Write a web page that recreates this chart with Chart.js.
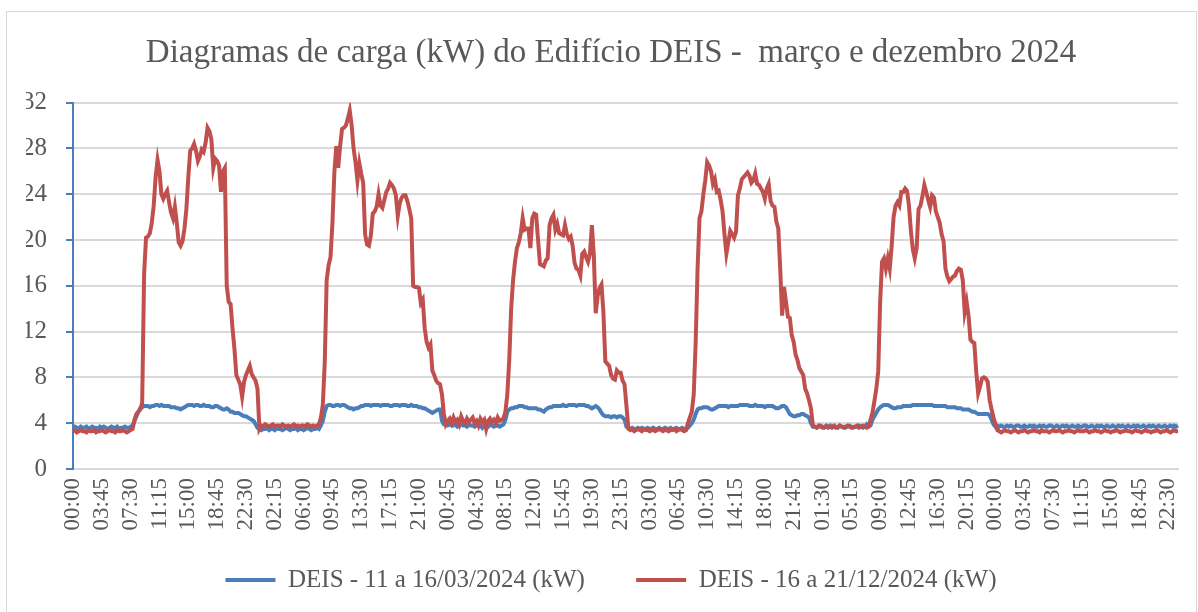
<!DOCTYPE html>
<html>
  <head>
    <title>Diagramas de carga - DEIS</title>
    <script src="https://cdn.jsdelivr.net/npm/chart.js"></script>
    <style>
      body {
        margin: 0;
        background: #fff;
      }
      .chart-box {
        position: absolute;
        left: 6px;
        top: 11px;
        width: 1189px;
        height: 610px;
        border: 1px solid #d9d9d9;
      }
    </style>
  </head>
  <body>
    <div class="chart-box"><canvas id="loadChart"></canvas></div>

    <script>
      // quarter-hour readings (kW), one array per day
      let mar11 = [3.6,3.7,3.6,3.5,3.7,3.6,3.6,3.7,3.5,3.6, 3.7,3.6,3.6,3.5,3.7,3.6,3.7,3.6,3.5,3.6, 3.7,3.6,3.6,3.7,3.5,3.6,3.6,3.7,3.6,3.6, 3.7,
        3.8,4.2,4.6,5.0,5.3,5.4,5.5,
        5.5,5.5,5.4,5.5,5.5,5.6,5.6,5.5,5.6,5.5,5.5,
        5.5,5.5,5.4,5.4,5.4,5.3,5.3,5.2,5.3,5.4,
        5.5,5.6,5.6,5.6,5.5,5.6,5.6,5.5,5.5,5.6,5.5,5.5,5.5,5.4,5.4,5.5,5.5,
        5.4,5.3,5.2,5.2,5.3,5.2,5.0,5.0,4.9,4.9,4.9,4.8,4.7,4.6,4.6,4.5,4.4,4.3,4.2,3.9];
      let mar12 = [3.6,
        3.5,3.4,3.5,3.5,3.6,3.4,3.5,3.5,3.4,3.6, 3.5,3.5,3.4,3.5,3.6,3.5,3.4,3.5,3.5,3.6, 3.4,3.5,3.5,3.4,3.5,3.6,3.5,3.4,3.5,3.5, 3.6,3.5,
        3.8,4.2,5.0,5.5,
        5.6,5.6,5.5,5.5,5.6,5.6,5.5,5.6,5.6,5.5,
        5.4,5.3,5.3,5.2,5.3,5.3,5.4,5.5,5.5,
        5.6,5.6,5.6,5.5,5.6,5.6,5.6,5.6,5.5,5.6, 5.6,5.6,5.6,5.5,5.5,5.6,5.6,5.6,5.5,5.6, 5.6,5.6,5.5,5.5,5.6,
        5.5,5.5,5.5,5.4,5.4,5.3,5.3,5.2,5.1,5.0,4.9,5.0,5.1,5.2,5.2];
      let mar13 = [4.2,3.9,
        3.9,3.8,3.9,3.8,3.8,3.9,3.7,3.8,3.9,3.8, 3.8,3.7,3.9,3.8,3.8,3.7,3.8,3.9,3.8,3.6, 3.8,3.8,3.7,3.9,3.8,3.7,3.8,3.8,3.7,3.8, 3.9,
        4.3,5.0,5.2,5.3,
        5.3,5.4,5.4,5.5,5.5,5.5,5.4,5.4,
        5.3,5.3,5.3,5.3,5.3,5.2,5.2,
        5.1,5.0,5.2,5.3,5.4,
        5.4,5.5,5.5,5.5,5.5,5.5,5.6,5.5,5.5,
        5.6,5.6,5.6,5.6,5.5,5.6,5.6,5.6,5.6,5.5,5.5,
        5.4,5.3,5.4,5.5,5.4,5.2,4.9,4.7,4.6,
        4.6,4.6,4.5,4.6,4.6,4.5,4.6,4.6,4.5,4.3];
      let mar14 = [3.7,
        3.6,3.5,3.6,3.5,3.5,3.6,3.5,3.6,3.5,3.5, 3.6,3.5,3.4,3.6,3.5,3.5,3.6,3.5,3.5,3.6, 3.4,3.5,3.6,3.5,3.5,3.6,3.5,3.5,3.6,3.5, 3.5,3.6,
        3.8,4.0,4.3,4.8,5.2,
        5.3,5.3,5.4,5.4,5.4,5.3,5.2,5.2,5.3,5.4,
        5.5,5.5,5.5,5.5,5.5,5.4,5.5,5.5,5.5,
        5.5,5.5,5.6,5.6,5.6,5.6,5.6,5.5,
        5.5,5.5,5.6,5.5,5.5,5.5,5.5,5.4,5.5,5.5,5.5,5.5,
        5.4,5.3,5.3,5.4,5.5,5.5,5.4,5.1,4.8,4.7,
        4.6,4.6,4.7,4.7,4.8,4.8,4.7,4.6,4.5];
      let mar15 = [4.0,
        3.7,3.7,3.6,3.7,3.8,3.7,3.6,3.7,3.7,3.8, 3.6,3.7,3.7,3.6,3.8,3.7,3.7,3.6,3.7,3.8, 3.7,3.6,3.7,3.7,3.8,3.7,3.6,3.7,3.9,3.7, 3.8,
        4.3,4.6,4.9,5.2,5.4,5.5,5.6,5.6,5.6,5.5,5.4,5.3,5.3,5.4,
        5.4,5.4,5.5,5.5,5.5,5.5,5.5,5.6,
        5.6,5.6,5.6,5.6,5.6,5.6,5.6,5.6,5.6,5.6,5.5,5.5,5.5,
        5.5,5.5,5.5,5.5,5.4,5.4,5.4,5.4,5.4,5.3,
        5.3,5.3,5.2,5.2,5.2,5.2,5.1,5.0,5.0,4.9,
        4.8,4.8,4.8,4.8,4.8,4.8,4.7,
        4.3,3.9];
      let mar16 = [3.7,3.8,3.7,3.8,3.7,3.7,3.8,3.7,3.8,3.7, 3.7,3.8,3.8,3.7,3.7,3.8,3.7,3.7,3.8,3.7,
        3.8,3.7,3.7,3.8,3.7,3.8,3.7,3.7,3.8,3.8, 3.7,3.7,3.8,3.7,3.7,3.8,3.7,3.8,3.7,3.7,
        3.8,3.7,3.7,3.8,3.7,3.7,3.8,3.8,3.7,3.7, 3.8,3.7,3.7,3.8,3.7,3.8,3.7,3.7,3.8,3.7,
        3.7,3.8,3.7,3.7,3.8,3.7,3.8,3.7,3.7,3.8, 3.7,3.7,3.8,3.7,3.8,3.7,3.7,3.8,3.7,3.7,
        3.8,3.7,3.8,3.7,3.7,3.8,3.7,3.7,3.8,3.7, 3.7,3.8,3.7,3.8,3.7,3.8];

      let dec16 = [3.3,3.4,3.2,3.3,3.4,3.3,3.3,3.2,3.4,3.3, 3.3,3.4,3.2,3.3,3.3,3.4,3.3,3.2,3.3,3.4, 3.3,3.3,3.2,3.4,3.3,3.3,3.4,3.3,3.2,3.3, 3.4,
        3.5,4.3,4.8,5.0,5.2,5.8,17.0,20.2,20.3,20.6,
        21.5,23.0,25.5,27.0,26.0,24.0,23.6,24.0,24.3,23.3,
        22.4,21.9,22.9,21.5,19.8,19.5,19.9,21.0,22.7,25.5,
        27.8,28.0,28.4,27.8,26.9,27.3,27.9,27.7,28.5,29.8,
        29.5,28.8,26.3,27.1,26.9,26.5,24.2,26.0,26.3,16.0,
        14.6,14.4,12.3,10.5,8.2,7.8,7.4,6.3,7.6,8.2,
        8.6,9.0,8.3,8.0,7.7];
      let dec17 = [7.0,3.5,
        3.8,3.7,3.9,3.8,3.7,3.8,3.9,3.7,3.8,3.8, 3.7,3.9,3.8,3.7,3.8,3.7,3.8,3.9,3.7,3.8, 3.7,3.8,3.8,3.7,3.9,3.8,3.7,3.8,3.7,3.8, 3.9,
        4.5,5.6,9.3,16.5,17.8,18.5,21.5,25.9,28.2,26.3,
        28.2,29.7,29.8,30.0,30.6,31.3,30.0,28.0,26.8,25.2,
        26.7,25.8,25.0,20.5,19.6,19.5,20.4,22.3,22.5,22.9,
        24.0,23.0,22.8,23.5,24.2,24.5,25.0,24.8,24.5,23.9,
        22.1,23.2,23.7,23.9,23.9,23.4,22.7,21.9,16.0,15.9,
        15.9,15.8,14.5,14.8,12.3,11.1,10.6,10.9,8.6,8.2,
        7.7,7.5,7.4];
      let dec18 = [6.5,4.8,3.9,
        4.2,4.4,4.0,4.5,4.1,4.3,3.9,4.6,4.2,4.0, 4.4,4.1,4.3,4.5,4.0,4.2,3.8,4.4,4.1,4.3, 3.5,4.2,4.4,4.1,4.3,4.0,4.5,4.2,4.3,4.4,
        5.0,6.5,9.5,14.0,16.5,18.1,19.3,19.8,20.6,21.9,
        20.9,21.0,21.0,19.3,21.9,22.3,22.2,20.0,17.9,17.8,
        17.7,18.2,18.4,21.3,21.9,22.2,20.9,21.4,20.6,20.5,
        20.4,21.3,20.5,20.1,20.3,19.5,18.0,17.5,17.4,16.9,
        18.8,19.0,18.5,18.1,18.8,21.3,18.7,13.6,15.1,15.8,
        16.1,13.7,9.4,9.2,9.0,8.2,7.9,7.8,8.6,8.4,
        8.4,7.7,7.4];
      let dec19 = [5.5,3.5,
        3.4,3.5,3.3,3.4,3.5,3.4,3.3,3.5,3.4,3.4, 3.3,3.5,3.4,3.3,3.4,3.5,3.4,3.3,3.4,3.5, 3.3,3.4,3.4,3.5,3.3,3.4,3.5,3.4,3.3,3.4,
        4.0,4.5,5.0,6.5,11.0,17.5,21.9,22.5,24.0,25.2,
        26.8,26.5,26.0,24.9,25.3,24.2,24.3,23.5,22.5,20.5,
        18.8,19.8,20.8,20.5,20.2,20.7,23.9,24.5,25.3,25.5,
        25.7,25.9,25.6,25.0,25.2,25.8,24.9,24.8,24.5,24.2,
        23.6,24.5,24.9,23.4,23.0,22.9,21.6,21.0,17.5,13.4,
        15.9,14.6,13.3,13.2,11.7,11.1,10.0,9.5,8.8,8.5,
        8.2,7.0,6.6,6.0];
      let dec20 = [5.3,3.8,
        3.7,3.6,3.8,3.7,3.6,3.7,3.8,3.6,3.7,3.7, 3.8,3.6,3.7,3.8,3.7,3.6,3.7,3.8,3.7,3.6, 3.7,3.7,3.8,3.6,3.7,3.8,3.7,3.6,3.7,
        4.3,4.9,5.9,7.0,8.5,14.6,18.1,18.4,17.5,18.4,
        17.5,19.5,22.0,23.0,23.3,23.0,24.2,24.2,24.5,24.3,
        23.0,20.8,19.2,18.4,19.3,22.7,23.0,23.8,24.8,24.2,
        23.5,22.9,23.9,23.7,22.5,22.0,21.5,20.5,19.9,17.5,
        16.8,16.4,16.6,16.8,16.9,17.3,17.5,17.4,16.5,13.7,
        14.6,13.4,11.3,11.1,11.0,8.5,6.6,7.2,7.9,8.0,
        7.9,7.6,6.0,5.2,4.5];
      let dec21 = [3.9,3.4,
        3.3,3.2,3.3,3.4,3.3,3.3,3.2,3.3,3.4,3.3, 3.2,3.3,3.3,3.4,3.3,3.2,3.3,3.3,3.4,3.3,
        3.3,3.2,3.4,3.3,3.3,3.3,3.2,3.3,3.4,3.3, 3.3,3.4,3.3,3.2,3.3,3.3,3.4,3.3,3.3,3.2,
        3.3,3.4,3.3,3.3,3.3,3.4,3.3,3.2,3.3,3.3, 3.4,3.3,3.3,3.2,3.3,3.4,3.3,3.3,3.2,3.3,
        3.3,3.4,3.3,3.2,3.3,3.3,3.4,3.3,3.3,3.2, 3.3,3.4,3.3,3.3,3.2,3.3,3.4,3.3,3.3,3.2,
        3.3,3.3,3.4,3.3,3.2,3.3,3.3,3.4,3.3,3.2, 3.3,3.4,3.3,3.3];

      let marchSeries = [].concat(mar11, mar12, mar13, mar14, mar15, mar16);
      let decSeries = [].concat(dec16, dec17, dec18, dec19, dec20, dec21);

      let seriesNames = ["DEIS - 11 a 16/03/2024 (kW)", "DEIS - 16 a 21/12/2024 (kW)"];
      let yTicks = [0, 4, 8, 12, 16, 20, 24, 28, 32];
      let tickEvery = 15; // a label every 3:45

      // category labels: 6 days of quarter hours
      let times = [];
      for (let d = 0; d < 6; d++) {
        for (let q = 0; q < 96; q++) {
          let h = String(Math.floor(q / 4)).padStart(2, "0");
          let m = String((q % 4) * 15).padStart(2, "0");
          times.push(h + ":" + m);
        }
      }

      let font = "'Liberation Serif', 'DejaVu Serif', serif";
      let textColor = "#595959";

      new Chart(document.getElementById("loadChart"), {
        type: "line",
        data: {
          labels: times,
          datasets: [
            {
              label: seriesNames[0],
              data: marchSeries,
              borderColor: "#4a7ebb",
              backgroundColor: "#4a7ebb",
              borderWidth: 4,
              pointRadius: 0,
              tension: 0,
              order: 1,
            },
            {
              label: seriesNames[1],
              data: decSeries,
              borderColor: "#c0504d",
              backgroundColor: "#c0504d",
              borderWidth: 4,
              pointRadius: 0,
              tension: 0,
              order: 0,
            },
          ],
        },
        options: {
          responsive: true,
          maintainAspectRatio: false,
          animation: false,
          devicePixelRatio: 1,
          layout: { padding: { left: 19, right: 0, top: 0, bottom: 19.5 } },
          plugins: {
            title: {
              display: true,
              text: "Diagramas de carga (kW) do Edifício DEIS -  março e dezembro 2024",
              color: textColor,
              font: { family: font, size: 33, weight: "normal" },
              padding: { top: 22, bottom: 29 },
            },
            legend: {
              position: "bottom",
              labels: {
                color: textColor,
                font: { family: font, size: 25 },
                usePointStyle: true,
                pointStyle: "line",
                pointStyleWidth: 50,
                padding: 20,
                sort: (a, b) => a.datasetIndex - b.datasetIndex,
                generateLabels: (chart) => {
                  let items = Chart.defaults.plugins.legend.labels.generateLabels(chart);
                  // wider gap after the first entry
                  let first = items.find((it) => it.datasetIndex === 0);
                  first.text += "\u00a0".repeat(5);
                  return items;
                },
              },
            },
            tooltip: { enabled: false },
          },
          scales: {
            x: {
              grid: {
                display: true,
                drawOnChartArea: false,
                tickLength: 9,
                tickColor: "rgba(0,0,0,0)",
              },
              border: { display: true, color: "#d9d9d9", width: 2 },
              ticks: {
                autoSkip: false,
                minRotation: 90,
                maxRotation: 90,
                padding: 0,
                color: textColor,
                font: { family: font, size: 23 },
                callback: function (v, i) {
                  return i % tickEvery === 0 ? times[i] : null;
                },
              },
              afterFit: (s) => {
                s.height = 78.5;
              },
            },
            y: {
              min: yTicks[0],
              max: yTicks[yTicks.length - 1],
              grid: {
                color: "#d9d9d9",
                lineWidth: 2,
                tickColor: "#4a7ebb",
                tickLength: 7,
              },
              border: { color: "#4a7ebb", width: 2 },
              ticks: {
                stepSize: 4,
                padding: 19,
                color: textColor,
                font: { family: font, size: 25 },
              },
              afterFit: (s) => {
                s.width = 47;
              },
            },
          },
        },
      });
    </script>
  </body>
</html>
